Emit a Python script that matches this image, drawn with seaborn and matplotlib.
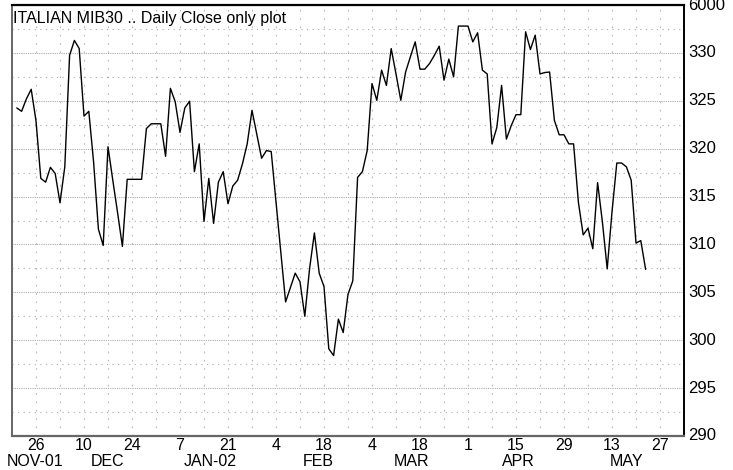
import numpy as np
import pandas as pd
import matplotlib
matplotlib.use("Agg")
import matplotlib.pyplot as plt
import matplotlib.transforms as mtransforms
import seaborn as sns

# ---------------- data ----------------
title = "ITALIAN MIB30 .. Daily Close only plot"
start_date = "2001-11-20"
close = [
    324.25, 323.9, 325.2, 326.2, 322.9, 316.9, 316.5, 318.05, 317.4, 314.35,
    318.1, 329.75, 331.3, 330.45, 323.4, 323.9, 318.6, 311.6, 309.9, 320.2,
    316.7, 313.3, 309.8, 316.8, 316.8, 316.8, 316.8, 322.1, 322.6, 322.6,
    322.6, 319.2, 326.3, 324.9, 321.7,
    324.25, 324.95, 317.6, 320.5, 312.4, 316.9, 312.2, 316.5, 317.6, 314.25,
    316.1, 316.7, 318.4, 320.5, 324.0, 321.5, 319.0, 319.8, 319.7, 314.4,
    309.2, 304.0, 305.5, 307.0, 306.1, 302.5, 307.5, 311.2, 307.0, 305.6,
    299.1, 298.4, 302.2, 300.8,
    304.8, 306.2, 317.0, 317.6, 319.8, 326.8, 325.05, 328.2, 326.6, 330.45,
    327.8, 325.05, 328.0, 329.6, 331.15, 328.3, 328.3, 328.9, 329.75, 330.7,
    327.15, 329.35, 327.5, 332.8, 332.8, 332.8, 331.15, 332.1, 328.2, 327.8,
    320.5, 322.2, 326.6, 321.0,
    322.4, 323.55, 323.55, 332.2, 330.35, 331.85, 327.8, 327.95, 328.0, 322.95,
    321.45, 321.45, 320.5, 320.5, 314.4, 311.0, 311.7, 309.55, 316.45, 312.35,
    307.45, 313.4, 318.5, 318.5, 318.1, 316.7, 310.15, 310.4, 307.4,
]
day_tick_dates = ["2001-11-26", "2001-12-10", "2001-12-24", "2002-01-07",
                  "2002-01-21", "2002-02-04", "2002-02-18", "2002-03-04",
                  "2002-03-18", "2002-04-01", "2002-04-15", "2002-04-29",
                  "2002-05-13", "2002-05-27"]
day_tick_labels = ["26", "10", "24", "7", "21", "4", "18", "4", "18", "1",
                   "15", "29", "13", "27"]
month_labels = ["NOV-01", "DEC", "JAN-02", "FEB", "MAR", "APR", "MAY"]
y_ticks = [290, 295, 300, 305, 310, 315, 320, 325, 330, 335]
y_tick_labels = ["290", "295", "300", "305", "310", "315", "320", "325", "330", "6000"]

# ---------------- layout / style ----------------
origin = "2001-11-19"            # left edge of the trading-day axis
x_max = 140
month_pos = [4.8, 20, 41.2, 63.8, 83.3, 105.4, 128.1]

dates = pd.bdate_range(start_date, periods=len(close))
df = pd.DataFrame({
    "date": dates,
    "pos": np.busday_count(np.datetime64(origin), dates.values.astype("datetime64[D]")),
    "close": close,
})
day_pos = np.busday_count(np.datetime64(origin),
                          np.array(day_tick_dates, dtype="datetime64[D]"))

sns.set_theme(style="white")
plt.rcParams["font.family"] = ["Liberation Sans", "DejaVu Sans"]

W, H = 733, 470
fig = plt.figure(figsize=(W / 100, H / 100), dpi=100)
ax = fig.add_axes([12 / W, 1 - 436 / H, (684 - 12) / W, (436 - 5) / H])

sns.lineplot(data=df, x="pos", y="close", ax=ax, color="black",
             linewidth=1.0, zorder=3)

ax.set_xlim(0, x_max)
ax.set_ylim(290, 335)

# x ticks: labelled every two weeks, gridlines every week
ax.set_xticks(day_pos)
ax.set_xticklabels(day_tick_labels)
minor_x = [p + 5 for p in day_pos[:-1]]
ax.set_xticks(minor_x, minor=True)

# y ticks on the right
ax.yaxis.tick_right()
ax.set_yticks(y_ticks)
ax.set_yticklabels(y_tick_labels)
ax.set_yticks([t + 2.5 for t in y_ticks[:-1]], minor=True)

ax.tick_params(axis="both", which="both", length=0)
ax.tick_params(axis="y", which="major", pad=3, labelsize=12, colors="black")
ax.tick_params(axis="x", which="major", pad=1.5, labelsize=11.5, colors="black")
for lbl in ax.get_yticklabels():
    lbl.set_verticalalignment("center")

ax.set_xlabel("")
ax.set_ylabel("")

grid_col = "#ababab"
ax.grid(False)
ax.yaxis.grid(True, which="major", color=grid_col, linewidth=0.8,
              linestyle=(0, (1, 1)), zorder=0)
ax.yaxis.grid(True, which="minor", color=grid_col, linewidth=0.8,
              linestyle=(0, (1, 4)), zorder=0)
ax.xaxis.grid(True, which="both", color="#b8b8b8", linewidth=0.8,
              linestyle=(0, (1.5, 6)), zorder=0)

for side in ["left", "right", "top", "bottom"]:
    ax.spines[side].set_visible(True)
ax.spines["top"].set_color("black")
ax.spines["top"].set_linewidth(1.6)
ax.spines["right"].set_color("black")
ax.spines["right"].set_linewidth(1.4)
ax.spines["left"].set_color("#666666")
ax.spines["left"].set_linewidth(1.4)
ax.spines["bottom"].set_color("#666666")
ax.spines["bottom"].set_linewidth(1.6)

# month labels below the day numbers
trans = mtransforms.blended_transform_factory(ax.transData, ax.transAxes)
for lab, p in zip(month_labels, month_pos):
    ax.text(p, -0.041, lab, transform=trans, ha="center", va="top",
            fontsize=11.5, color="black")

# title inside the plot area
ax.text(0.0015, 0.985, title, transform=ax.transAxes, ha="left", va="top",
        fontsize=11.5, color="black", zorder=4)

fig.savefig("out.png", dpi=100)
